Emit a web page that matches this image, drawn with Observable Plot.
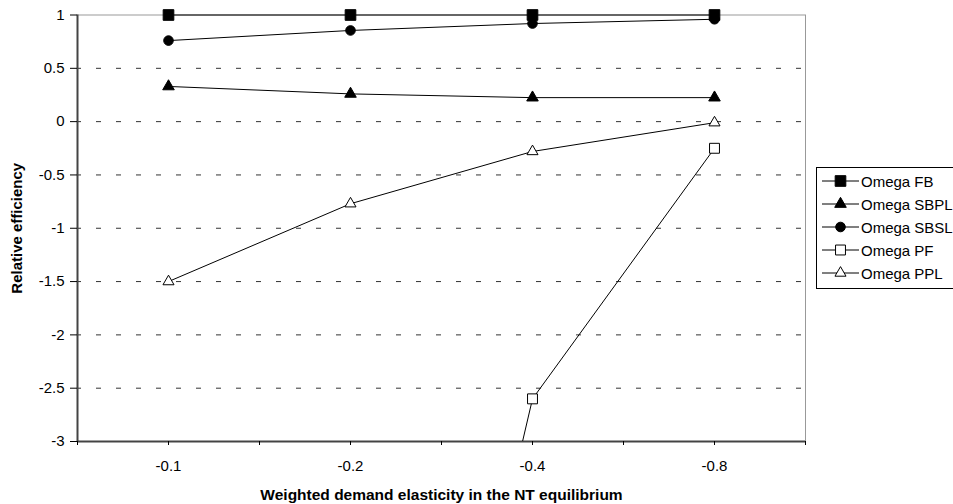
<!DOCTYPE html>
<html>
<head>
<meta charset="utf-8">
<script src="https://cdn.jsdelivr.net/npm/d3@7"></script>
<script src="https://cdn.jsdelivr.net/npm/@observablehq/plot@0.6"></script>
<style>
  html, body { margin: 0; background: #fff; overflow: hidden; }
  #wrap { position: relative; width: 953px; height: 504px; overflow: hidden; font-family: "Liberation Sans", Arial, sans-serif; }
  #legend { position: absolute; left: 816px; top: 167px; width: 145px; height: 122px; border: 1px solid #000; background: #fff; box-sizing: border-box; }
  .row { position: absolute; left: 0; height: 23px; display: flex; align-items: center; font-size: 15px; white-space: nowrap; }
  .row svg { display: block; margin-left: 5px; margin-right: 2px; }
</style>
</head>
<body>
<div id="wrap"><div id="chart"></div><div id="legend"></div></div>
<script>
const categories = ["-0.1", "-0.2", "-0.4", "-0.8"];
const seriesNames = ["Omega FB", "Omega SBPL", "Omega SBSL", "Omega PF", "Omega PPL"];
const omegaFB   = [1, 1, 1, 1];
const omegaSBPL = [0.33, 0.26, 0.225, 0.225];
const omegaSBSL = [0.76, 0.855, 0.92, 0.96];
const omegaPF   = [-15, -9.9, -2.6, -0.25];
const omegaPPL  = [-1.5, -0.77, -0.28, -0.01];
const yTicks = [1, 0.5, 0, -0.5, -1, -1.5, -2, -2.5, -3];

const seriesValues = [omegaFB, omegaSBPL, omegaSBSL, omegaPF, omegaPPL];
const seriesSymbols = ["square", "triangle", "circle", "square", "triangle"];
const seriesFills = ["black", "black", "black", "white", "white"];
const seriesR = [6, 4.3, 4.8, 5.6, 4.1];

const rows = [];
seriesNames.forEach((name, s) => {
  seriesValues[s].forEach((v, i) => {
    rows.push({series: name, xi: i + 0.5, cat: categories[i], value: v,
               symbol: seriesSymbols[s], fill: seriesFills[s], r: seriesR[s]});
  });
});
const inRange = rows.filter(d => d.value >= -3);
const pfRows = rows.filter(d => d.series === "Omega PF");
const otherRows = rows.filter(d => d.series !== "Omega PF");

const xTickPositions = d3.range(0, categories.length + 0.001, 0.5);
const fmtX = d => {
  const k = d - 0.5;
  return Math.abs(k - Math.round(k)) < 1e-9 ? categories[Math.round(k)] : "";
};

const chart = Plot.plot({
  width: 953,
  height: 504,
  marginLeft: 77,
  marginRight: 148,
  marginTop: 14.5,
  marginBottom: 63,
  x: {domain: [0, categories.length]},
  y: {domain: [-3, 1]},
  r: {type: "identity"},
  symbol: {type: "identity"},
  style: {fontFamily: "'Liberation Sans', Arial, sans-serif", fontSize: "15px", color: "black", background: "white", overflow: "visible"},
  marks: [
    Plot.ruleY(yTicks.filter(d => d > -3 && d < 1), {stroke: "#333", strokeWidth: 1, strokeDasharray: "5,15", strokeDashoffset: 1}),
    Plot.frame({stroke: "#999"}),
    Plot.ruleX([0], {stroke: "#444", strokeWidth: 2}),
    Plot.ruleY([-3], {stroke: "#444", strokeWidth: 2}),
    Plot.axisY({ticks: yTicks, tickSize: 7, tickPadding: 6, tickFormat: d => String(d), label: null, fontSize: 15}),
    Plot.axisY({ticks: [], label: "Relative efficiency", labelAnchor: "center", labelOffset: 66, labelArrow: "none", fontWeight: "bold", fontSize: 15}),
    Plot.axisX({ticks: xTickPositions, tickSize: 4, tickPadding: 15, tickFormat: fmtX, label: null, fontSize: 15}),
    Plot.axisX({ticks: [], label: "Weighted demand elasticity in the NT equilibrium", labelAnchor: "center", labelOffset: 58, labelArrow: "none", fontWeight: "bold", fontSize: 15.5}),
    Plot.line(otherRows, {x: "xi", y: "value", z: "series", stroke: "black", strokeWidth: 1}),
    Plot.line(pfRows, {x: "xi", y: "value", z: "series", stroke: "black", strokeWidth: 1, clip: true}),
    Plot.dot(inRange, {x: "xi", y: "value", symbol: "symbol", fill: "fill", stroke: "black", strokeWidth: 1, r: "r"})
  ]
});
document.getElementById("chart").appendChild(chart);

// legend
const legend = document.getElementById("legend");
seriesNames.forEach((name, s) => {
  const row = document.createElement("div");
  row.className = "row";
  row.style.top = (1.5 + s * 23) + "px";
  const ns = "http://www.w3.org/2000/svg";
  const svg = document.createElementNS(ns, "svg");
  svg.setAttribute("width", 37);
  svg.setAttribute("height", 16);
  const line = document.createElementNS(ns, "line");
  line.setAttribute("x1", 0); line.setAttribute("x2", 37);
  line.setAttribute("y1", 8); line.setAttribute("y2", 8);
  line.setAttribute("stroke", "black");
  svg.appendChild(line);
  const symMap = {square: d3.symbolSquare, triangle: d3.symbolTriangle, circle: d3.symbolCircle};
  const path = document.createElementNS(ns, "path");
  const r = seriesR[s];
  path.setAttribute("d", d3.symbol(symMap[seriesSymbols[s]], Math.PI * r * r)());
  path.setAttribute("transform", "translate(18.5,8)");
  path.setAttribute("fill", seriesFills[s]);
  path.setAttribute("stroke", "black");
  svg.appendChild(path);
  row.appendChild(svg);
  const t = document.createElement("span");
  t.textContent = name;
  row.appendChild(t);
  legend.appendChild(row);
});
</script>
</body>
</html>
